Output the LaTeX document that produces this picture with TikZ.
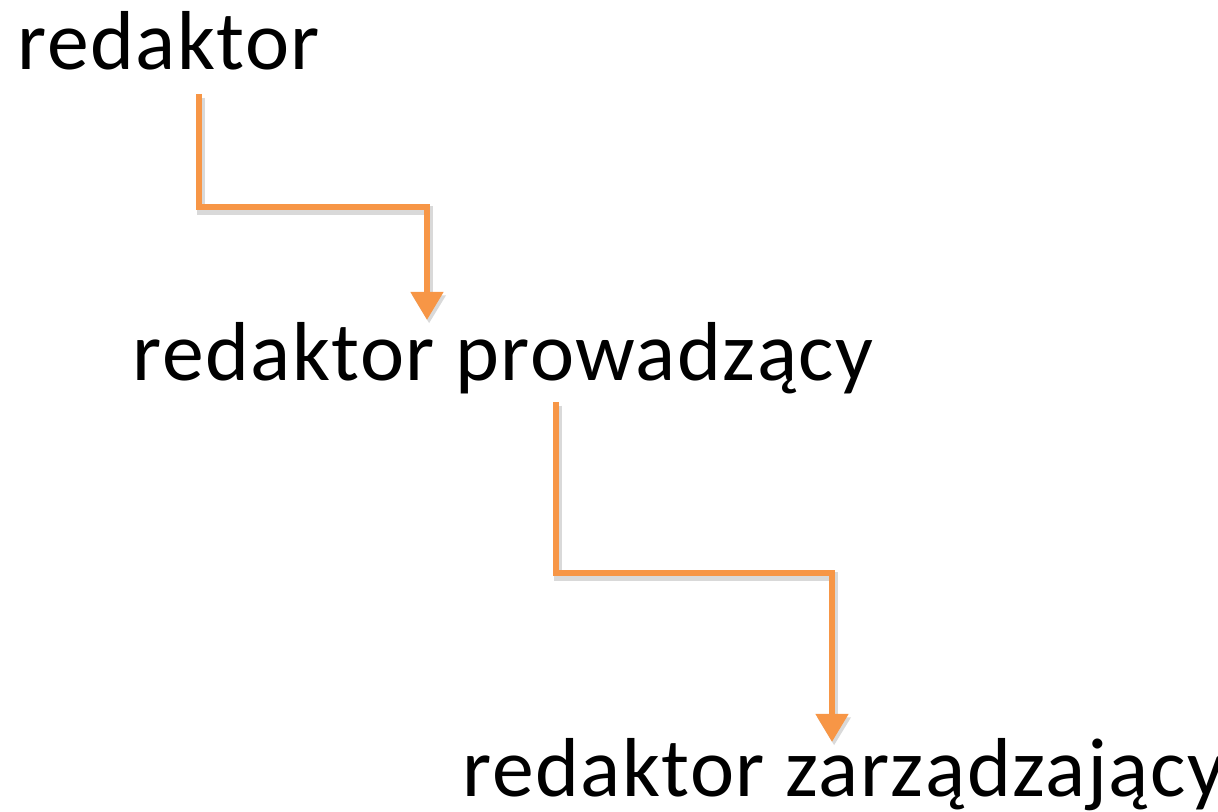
\documentclass[tikz,border=0pt]{standalone}
\usepackage{fontspec}
\setmainfont{Carlito}[LetterSpace=1.8]
\usetikzlibrary{arrows.meta}
\definecolor{accent}{RGB}{247,150,70}
\tikzset{
	term/.style={anchor=base west, inner sep=0pt, font=\fontsize{23.8}{28}\selectfont},
	elbow/.style={draw=accent, line width=1.7pt, -{Triangle[width=9pt,length=8pt]},
		preaction={draw=black!15, line width=2.4pt, transform canvas={shift={(0.6pt,-1pt)}}}}
}
\begin{document}
\begin{tikzpicture}
	\useasboundingbox (0,0) rectangle (12.18,-8.12);
	\node[term] (ed) at (0.17,-0.70) {redaktor};
	\node[term] (lead) at (1.32,-3.81) {redaktor prowadzący};
	\node[term] (chief) at (4.62,-7.97) {redaktor zarządzający};
	% start and end of the steps
	\coordinate (a1) at (1.99,-0.94);
	\coordinate (b1) at (4.27,-3.20);
	\coordinate (a2) at (5.56,-4.02);
	\coordinate (b2) at (8.32,-7.42);
	\draw[elbow] (a1) -- ++(0,-1.13) -| (b1);
	\draw[elbow] (a2) -- ++(0,-1.71) -| (b2);
\end{tikzpicture}
\end{document}
